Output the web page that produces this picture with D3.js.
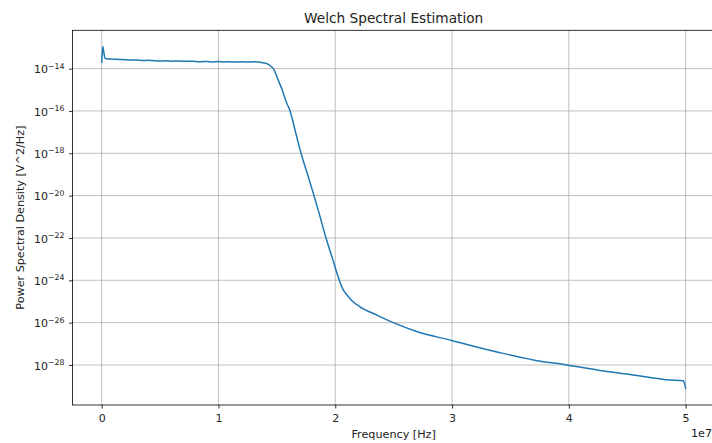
<!DOCTYPE html>
<html>
<head>
<meta charset="utf-8">
<script src="https://cdn.jsdelivr.net/npm/d3@7"></script>
<style>
  html, body { margin: 0; padding: 0; background: #fff; }
  svg { display: block; font-family: "DejaVu Sans", sans-serif; }
</style>
</head>
<body>
<svg id="chart" width="712" height="443"></svg>
<script>
// Welch PSD estimate: frequency (Hz) and power spectral density (V^2/Hz)
const freqHz = [
  0, 1.0e5, 2.0e5, 3.0e5, 6.0e5, 1.0e6, 1.5e6, 2.0e6, 2.5e6, 3.0e6, 3.5e6, 4.0e6,
  4.5e6, 5.0e6, 5.5e6, 6.0e6, 6.5e6, 7.0e6, 7.5e6, 8.0e6, 8.5e6, 9.0e6, 9.5e6,
  1.0e7, 1.05e7, 1.1e7, 1.15e7, 1.2e7, 1.25e7, 1.3e7, 1.356e7, 1.414e7, 1.456e7,
  1.470e7, 1.506e7, 1.545e7, 1.579e7, 1.613e7, 1.660e7, 1.707e7, 1.763e7, 1.818e7,
  1.870e7, 1.921e7, 1.978e7, 2.035e7, 2.069e7, 2.101e7, 2.141e7, 2.212e7, 2.355e7,
  2.497e7, 2.698e7, 3.003e7, 3.411e7, 3.696e7, 3.982e7, 4.267e7, 4.552e7, 4.723e7,
  4.838e7, 4.98e7, 5.0e7
];
const psd = [
  2.0e-14, 1.12e-13, 5.0e-14, 3.0e-14, 2.85e-14, 2.8e-14, 2.7e-14, 2.62e-14, 2.55e-14, 2.52e-14, 2.42e-14, 2.46e-14,
  2.36e-14, 2.3e-14, 2.33e-14, 2.25e-14, 2.3e-14, 2.2e-14, 2.25e-14, 2.16e-14, 2.12e-14, 2.18e-14, 2.08e-14,
  2.14e-14, 2.05e-14, 2.12e-14, 2.04e-14, 2.1e-14, 2.06e-14, 2.1e-14, 2.0e-14, 1.73e-14, 1.2e-14,
  1.0e-14, 3.4e-15, 1.0e-15, 2.8e-16, 1.0e-16, 1.0e-17, 1.0e-18, 1.0e-19, 1.0e-20,
  1.0e-21, 1.0e-22, 1.0e-23, 1.0e-24, 3.5e-25, 2.04e-25, 1.12e-25, 5.6e-26, 2.29e-26,
  1.0e-26, 3.8e-27, 1.41e-27, 3.8e-28, 1.74e-28, 1.0e-28, 5.5e-29, 3.4e-29, 2.4e-29,
  2.0e-29, 1.78e-29, 8.1e-30
];
const xTicks = [0, 1e7, 2e7, 3e7, 4e7, 5e7];
const xTickLabels = ["0", "1", "2", "3", "4", "5"];
const yTickExponents = [-14, -16, -18, -20, -22, -24, -26, -28];

const svg = d3.select("#chart");
const plotLeft = 72.5, plotRight = 714.8, plotTop = 30.3, plotBottom = 405;

const x = d3.scaleLinear().domain([-2.5e6, 5.25e7]).range([plotLeft, plotRight]);
const y = d3.scaleLog().domain([Math.pow(10, -29.89), Math.pow(10, -12.19)]).range([plotBottom, plotTop]);

// grid
const grid = svg.append("g").attr("stroke", "#b0b0b0").attr("stroke-width", 0.8);
xTicks.forEach(t => {
  grid.append("line").attr("x1", x(t)).attr("x2", x(t)).attr("y1", plotTop).attr("y2", plotBottom);
});
yTickExponents.forEach(e => {
  const yy = y(Math.pow(10, e));
  grid.append("line").attr("x1", plotLeft).attr("x2", plotRight).attr("y1", yy).attr("y2", yy);
});

// series
const line = d3.line()
  .x((d, i) => x(freqHz[i]))
  .y(d => y(d))
  .curve(d3.curveMonotoneX);
svg.append("path")
  .datum(psd)
  .attr("d", line)
  .attr("fill", "none")
  .attr("stroke", "#1f77b4")
  .attr("stroke-width", 1.5)
  .attr("stroke-linejoin", "round")
  .attr("stroke-linecap", "square");

// spines
svg.append("rect")
  .attr("x", plotLeft).attr("y", plotTop)
  .attr("width", plotRight - plotLeft).attr("height", plotBottom - plotTop)
  .attr("fill", "none").attr("stroke", "#000").attr("stroke-width", 0.8);

// x axis ticks
const xAxis = svg.append("g").attr("transform", `translate(0,${plotBottom})`)
  .call(d3.axisBottom(x).tickValues(xTicks).tickSize(3.5)
    .tickFormat((d, i) => xTickLabels[i]));
xAxis.select(".domain").remove();
xAxis.selectAll("line").attr("stroke", "#000").attr("stroke-width", 0.8);
xAxis.selectAll("text")
  .attr("y", 16.6).attr("dy", null)
  .attr("font-size", 11).attr("fill", "#222")
  .attr("font-family", "DejaVu Sans");

// y axis ticks with superscript exponents
const yAxis = svg.append("g").attr("transform", `translate(${plotLeft},0)`)
  .call(d3.axisLeft(y).tickValues(yTickExponents.map(e => Math.pow(10, e))).tickSize(3.5).tickFormat(""));
yAxis.select(".domain").remove();
yAxis.selectAll("line").attr("stroke", "#000").attr("stroke-width", 0.8);
yTickExponents.forEach(e => {
  const t = svg.append("text")
    .attr("x", 64.5)
    .attr("y", y(Math.pow(10, e)) + 4.8)
    .attr("text-anchor", "end")
    .attr("font-size", 11)
    .attr("fill", "#222");
  t.append("tspan").text("10");
  t.append("tspan").attr("font-size", 7.8).attr("dy", -4.8).text("\u2212" + Math.abs(e));
});

// labels
svg.append("text").attr("x", (plotLeft + plotRight) / 2).attr("y", 22.7)
  .attr("text-anchor", "middle").attr("font-size", 13.7).attr("fill", "#222")
  .text("Welch Spectral Estimation");
svg.append("text").attr("x", (plotLeft + plotRight) / 2).attr("y", 437.5)
  .attr("text-anchor", "middle").attr("font-size", 11.2).attr("fill", "#222")
  .text("Frequency [Hz]");
svg.append("text").attr("x", 712).attr("y", 436.5)
  .attr("text-anchor", "end").attr("font-size", 11.2).attr("fill", "#222")
  .text("1e7");
svg.append("text")
  .attr("transform", `translate(23.5,${(plotTop + plotBottom) / 2}) rotate(-90)`)
  .attr("text-anchor", "middle").attr("font-size", 11.2).attr("fill", "#222")
  .text("Power Spectral Density [V^2/Hz]");
</script>
</body>
</html>
